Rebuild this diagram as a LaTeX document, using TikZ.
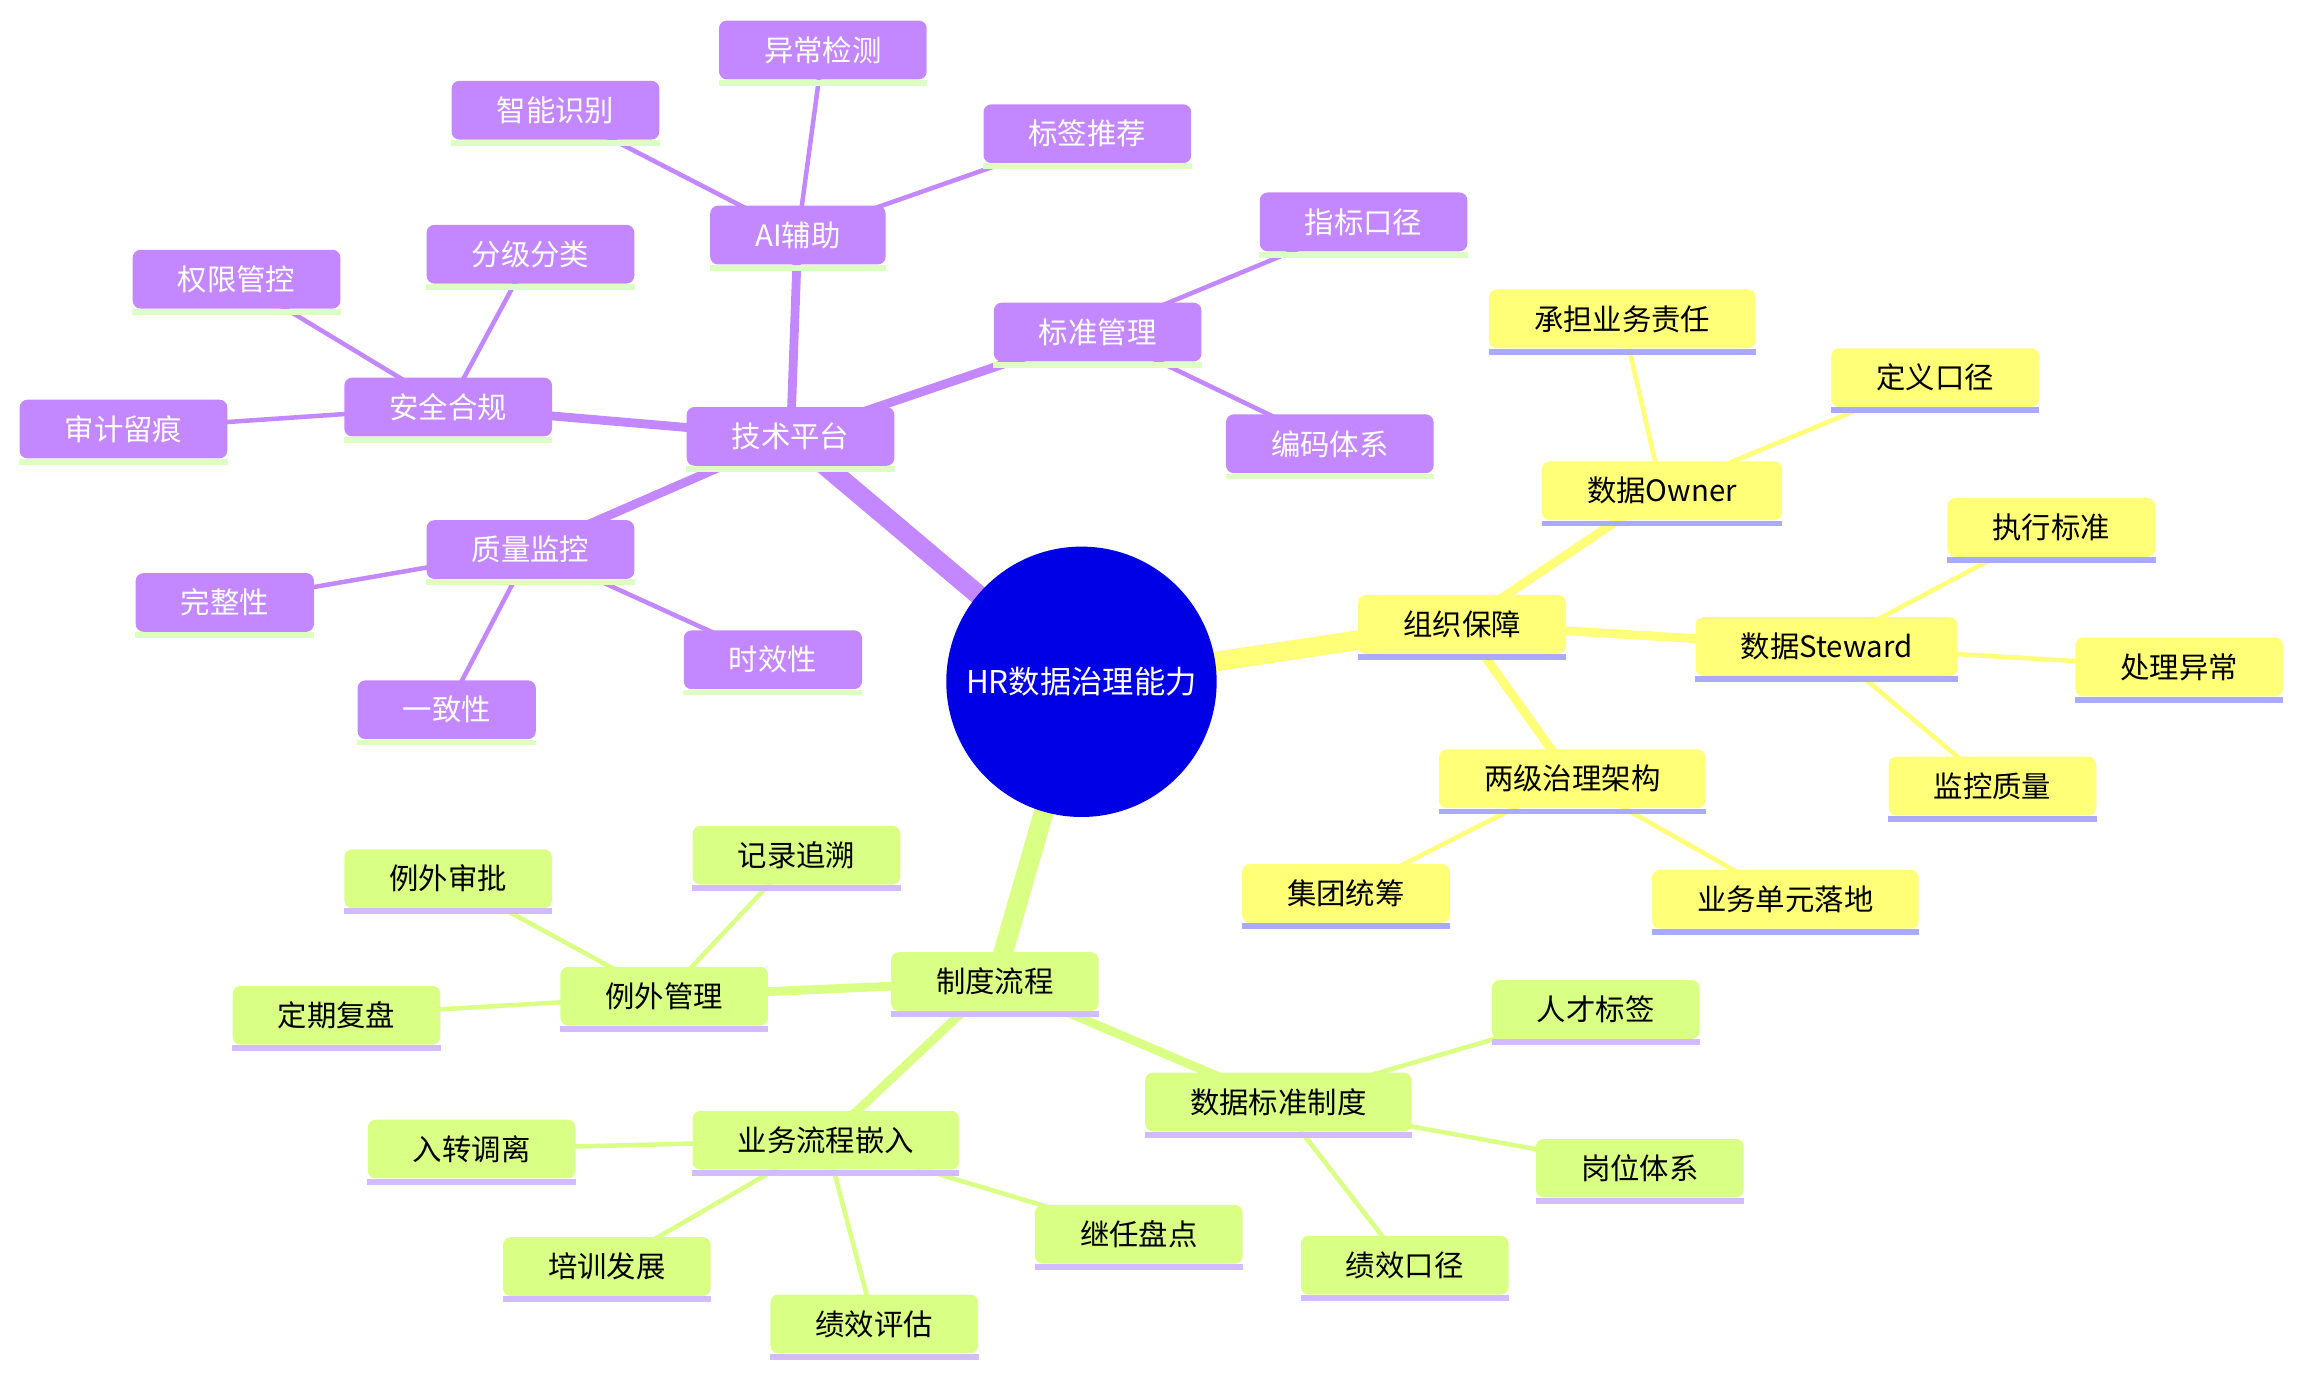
\documentclass[tikz,border=0pt]{standalone}
\usepackage{fontspec}
\setmainfont{Noto Sans CJK SC}
\usetikzlibrary{backgrounds}
\definecolor{rootblue}{RGB}{0,0,230}
\definecolor{purpfill}{RGB}{195,136,255}
\definecolor{purpbar}{RGB}{222,255,196}
\definecolor{yelfill}{RGB}{255,255,120}
\definecolor{yelbar}{RGB}{170,170,250}
\definecolor{grnfill}{RGB}{217,255,133}
\definecolor{grnbar}{RGB}{210,188,255}
\tikzset{
  box/.style={rounded corners=4pt, minimum height=30pt, inner xsep=23pt, inner ysep=0pt,
    font=\fontsize{15}{17}\selectfont},
  purp/.style={box, fill=purpfill, text=white},
  yel/.style={box, fill=yelfill, text=black},
  grn/.style={box, fill=grnfill, text=black},
  trunk/.style={line width=10pt},
  limb/.style={line width=4.5pt},
  twig/.style={line width=2.3pt},
}
\begin{document}
\begin{tikzpicture}[x=0.75pt, y=-0.75pt]
  \useasboundingbox (0,0) rectangle (1568,939);
  % root
  \node[circle, fill=rootblue, text=white, minimum size=138pt, inner sep=0pt,
    font=\fontsize{16}{18}\selectfont] (root) at (736,464) {HR数据治理能力};
  % 技术平台
  \node[purp] (tech) at (538,297) {技术平台};
  \node[purp] (ai) at (543,160) {AI辅助};
  \node[purp] (anomaly) at (560,34) {异常检测};
  \node[purp] (recog) at (378,75) {智能识别};
  \node[purp] (tagrec) at (740,91) {标签推荐};
  \node[purp] (std) at (747,226) {标准管理};
  \node[purp] (metric) at (928,151) {指标口径};
  \node[purp] (coding) at (905,302) {编码体系};
  \node[purp] (sec) at (305,277) {安全合规};
  \node[purp] (grade) at (361,173) {分级分类};
  \node[purp] (perm) at (161,190) {权限管控};
  \node[purp] (audit) at (84,292) {审计留痕};
  \node[purp] (qual) at (361,374) {质量监控};
  \node[purp] (complete) at (153,410) {完整性};
  \node[purp] (consist) at (304,483) {一致性};
  \node[purp] (timely) at (526,449) {时效性};
  % 组织保障
  \node[yel] (org) at (995,425) {组织保障};
  \node[yel] (owner) at (1131,334) {数据Owner};
  \node[yel] (bizresp) at (1104,217) {承担业务责任};
  \node[yel] (defcal) at (1317,257) {定义口径};
  \node[yel] (steward) at (1243,440) {数据Steward};
  \node[yel] (execstd) at (1396,359) {执行标准};
  \node[yel] (handle) at (1483,454) {处理异常};
  \node[yel] (monqual) at (1356,535) {监控质量};
  \node[yel] (twolvl) at (1070,530) {两级治理架构};
  \node[yel] (group) at (916,608) {集团统筹};
  \node[yel] (unit) at (1215,612) {业务单元落地};
  % 制度流程
  \node[grn] (inst) at (677,668) {制度流程};
  \node[grn] (exc) at (452,678) {例外管理};
  \node[grn] (excappr) at (305,598) {例外审批};
  \node[grn] (trace) at (542,582) {记录追溯};
  \node[grn] (review) at (229,691) {定期复盘};
  \node[grn] (embed) at (562,776) {业务流程嵌入};
  \node[grn] (onboard) at (321,782) {入转调离};
  \node[grn] (train) at (413,862) {培训发展};
  \node[grn] (perf) at (595,901) {绩效评估};
  \node[grn] (succ) at (775,840) {继任盘点};
  \node[grn] (datastd) at (870,750) {数据标准制度};
  \node[grn] (talent) at (1086,687) {人才标签};
  \node[grn] (post) at (1116,795) {岗位体系};
  \node[grn] (perfcal) at (956,861) {绩效口径};
  % bars under the boxes
  \foreach \n in {tech,ai,anomaly,recog,tagrec,std,metric,coding,sec,grade,perm,audit,qual,complete,consist,timely}
    \fill[purpbar] (\n.south west) rectangle ([yshift=-3pt]\n.south east);
  \foreach \n in {org,owner,bizresp,defcal,steward,execstd,handle,monqual,twolvl,group,unit}
    \fill[yelbar] (\n.south west) rectangle ([yshift=-3pt]\n.south east);
  \foreach \n in {inst,exc,excappr,trace,review,embed,onboard,train,perf,succ,datastd,talent,post,perfcal}
    \fill[grnbar] (\n.south west) rectangle ([yshift=-3pt]\n.south east);
  % edges
  \begin{scope}[on background layer]
    \draw[purpfill, trunk] (root.center) -- (tech.center);
    \draw[yelfill, trunk] (root.center) -- (org.center);
    \draw[grnfill, trunk] (root.center) -- (inst.center);
    \draw[purpfill, limb] (tech.center) -- (ai.center) (tech.center) -- (std.center)
      (tech.center) -- (sec.center) (tech.center) -- (qual.center);
    \draw[purpfill, twig] (ai.center) -- (anomaly.center) (ai.center) -- (recog.center)
      (ai.center) -- (tagrec.center) (std.center) -- (metric.center) (std.center) -- (coding.center)
      (sec.center) -- (grade.center) (sec.center) -- (perm.center) (sec.center) -- (audit.center)
      (qual.center) -- (complete.center) (qual.center) -- (consist.center) (qual.center) -- (timely.center);
    \draw[yelfill, limb] (org.center) -- (owner.center) (org.center) -- (steward.center)
      (org.center) -- (twolvl.center);
    \draw[yelfill, twig] (owner.center) -- (bizresp.center) (owner.center) -- (defcal.center)
      (steward.center) -- (execstd.center) (steward.center) -- (handle.center)
      (steward.center) -- (monqual.center) (twolvl.center) -- (group.center)
      (twolvl.center) -- (unit.center);
    \draw[grnfill, limb] (inst.center) -- (exc.center) (inst.center) -- (embed.center)
      (inst.center) -- (datastd.center);
    \draw[grnfill, twig] (exc.center) -- (excappr.center) (exc.center) -- (trace.center)
      (exc.center) -- (review.center) (embed.center) -- (onboard.center)
      (embed.center) -- (train.center) (embed.center) -- (perf.center)
      (embed.center) -- (succ.center) (datastd.center) -- (talent.center)
      (datastd.center) -- (post.center) (datastd.center) -- (perfcal.center);
  \end{scope}
\end{tikzpicture}
\end{document}
